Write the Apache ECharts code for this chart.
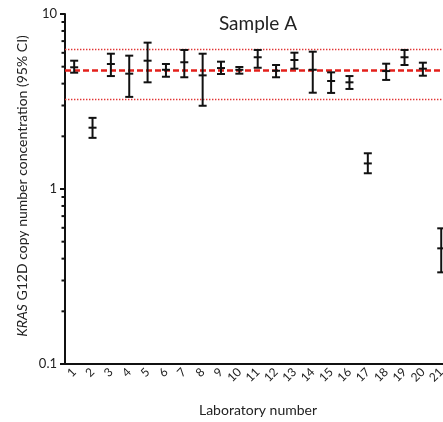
<!DOCTYPE html>
<html>
<head>
<meta charset="utf-8">
<script src="https://cdn.jsdelivr.net/npm/echarts@6/dist/echarts.min.js"></script>
<style>
  html, body { margin: 0; padding: 0; background: #fff; }
  #chart { width: 443px; height: 422px; }
</style>
</head>
<body>
<div id="chart"></div>
<script>
// Laboratory numbers on the x axis
const labs = ['1','2','3','4','5','6','7','8','9','10','11','12','13','14','15','16','17','18','19','20','21'];
// Copy number concentration per laboratory (point estimate and 95% CI)
const mid  = [4.96, 2.24, 5.18, 4.56, 5.41, 4.80, 5.30, 4.46, 4.91, 4.80, 5.66, 4.74, 5.46, 4.80, 4.14, 4.07, 1.40, 4.72, 5.66, 4.87, 0.458];
const low  = [4.62, 1.96, 4.42, 3.36, 4.07, 4.38, 4.35, 2.99, 4.54, 4.56, 4.93, 4.35, 4.87, 3.55, 3.54, 3.73, 1.23, 4.20, 5.11, 4.44, 0.334];
const high = [5.41, 2.55, 5.93, 5.78, 6.86, 5.18, 6.23, 5.93, 5.34, 4.98, 6.23, 5.11, 6.01, 6.09, 4.64, 4.42, 1.60, 5.20, 6.23, 5.27, 0.596];
// Consensus value and its limits
const consensus = 4.80;
const upperLimit = 6.29;
const lowerLimit = 3.27;
// Log axis: major tick labels and minor tick positions
const yTickLabels = ['0.1', '1', '10'];
const minorTicks = [0.2, 0.3, 0.4, 0.5, 0.6, 0.7, 0.8, 0.9, 2, 3, 4, 5, 6, 7, 8, 9];

const FONT = 'Lato, "Open Sans", sans-serif';
const INK = '#111';

const chart = echarts.init(document.getElementById('chart'), null, { renderer: 'canvas' });

const barData = labs.map((l, i) => [i, low[i], mid[i], high[i]]);

function renderBar(params, api) {
  const i = api.value(0);
  const pLow = api.coord([i, api.value(1)]);
  const pMid = api.coord([i, api.value(2)]);
  const pHigh = api.coord([i, api.value(3)]);
  const x = pMid[0];
  const half = 4;
  const style = { stroke: INK, lineWidth: 2 };
  return {
    type: 'group',
    children: [
      { type: 'line', shape: { x1: x, y1: pHigh[1], x2: x, y2: pLow[1] }, style },
      { type: 'line', shape: { x1: x - half, y1: pHigh[1], x2: x + half, y2: pHigh[1] }, style },
      { type: 'line', shape: { x1: x - half, y1: pLow[1], x2: x + half, y2: pLow[1] }, style },
      { type: 'line', shape: { x1: x - half, y1: pMid[1], x2: x + half, y2: pMid[1] }, style }
    ]
  };
}

function renderMinorTick(params, api) {
  const p = api.coord([0, api.value(0)]);
  const x0 = params.coordSys.x;
  return {
    type: 'line',
    shape: { x1: x0 - 3.5, y1: p[1], x2: x0, y2: p[1] },
    style: { stroke: INK, lineWidth: 2 }
  };
}

const option = {
  animation: false,
  // plot area runs past the right edge of the canvas, so lab 21 sits at the border
  grid: { left: 65, width: 385.4, top: 14, height: 350, containLabel: false, outerBoundsMode: 'none' },
  xAxis: {
    type: 'category',
    data: labs,
    boundaryGap: true,
    axisLine: { lineStyle: { color: INK, width: 2 } },
    axisTick: { alignWithLabel: true, length: 3, lineStyle: { color: INK, width: 2 } },
    axisLabel: { rotate: 45, interval: 0, margin: 6, fontSize: 12, color: '#222', fontFamily: FONT },
    splitLine: { show: false }
  },
  yAxis: {
    type: 'log',
    logBase: 10,
    min: 0.1,
    max: 10,
    axisLine: { show: true, lineStyle: { color: INK, width: 2 } },
    axisTick: { show: true, length: 5, lineStyle: { color: INK, width: 2 } },
    axisLabel: {
      margin: 8, fontSize: 13, color: '#222', fontFamily: FONT,
      formatter: v => {
        const s = String(+v.toPrecision(3));
        return yTickLabels.includes(s) ? s : '';
      }
    },
    splitLine: { show: false }
  },
  series: [
    {
      type: 'custom',
      silent: true,
      clip: false,
      renderItem: renderMinorTick,
      data: minorTicks.map(v => [v]),
      encode: { y: 0 },
      z: 3
    },
    {
      type: 'custom',
      silent: true,
      clip: false,
      renderItem: renderBar,
      data: barData,
      encode: { x: 0, y: [1, 2, 3] },
      z: 5,
      markLine: {
        silent: true,
        symbol: 'none',
        label: { show: false },
        data: [
          { yAxis: consensus, lineStyle: { color: '#e3201b', width: 2.5, type: [6, 3] } },
          { yAxis: upperLimit, lineStyle: { color: '#e23434', width: 1.4, type: [1.4, 1.6] } },
          { yAxis: lowerLimit, lineStyle: { color: '#e23434', width: 1.4, type: [1.4, 1.6] } }
        ],
        z: 2
      }
    }
  ],
  graphic: [
    {
      type: 'text', x: 258, y: 24,
      style: { text: 'Sample A', fontSize: 19, fontFamily: FONT, fill: '#222', align: 'center', verticalAlign: 'middle' }
    },
    {
      type: 'text', x: 258, y: 410,
      style: { text: 'Laboratory number', fontSize: 14, fontFamily: FONT, fill: '#222', align: 'center', verticalAlign: 'middle' }
    },
    {
      type: 'text', x: 22, y: 186, rotation: Math.PI / 2,
      style: {
        text: '{i|KRAS} G12D copy number concentration (95% CI)',
        fontSize: 14, fontFamily: FONT, fill: '#222', align: 'center', verticalAlign: 'middle',
        rich: { i: { fontStyle: 'italic', fontSize: 14, fontFamily: FONT, fill: '#222' } }
      }
    }
  ]
};

chart.setOption(option);
</script>
</body>
</html>
